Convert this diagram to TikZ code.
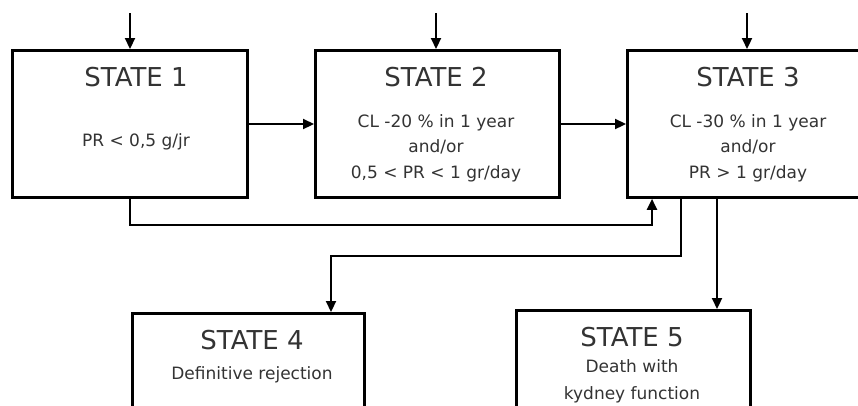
\documentclass[tikz,border=0pt]{standalone}
\usepackage{fontspec}
\setmainfont{DejaVu Sans}
\usetikzlibrary{arrows.meta}
\begin{document}
\begin{tikzpicture}[x=1pt,y=-1pt,
  box/.style={draw=black,line width=2.8pt,fill=white,inner sep=0pt,anchor=north west},
  conn/.style={draw=black,line width=2.2pt},
  arr/.style={conn,-{Triangle[length=11pt,width=10pt]}},
  title/.style={text=black!80,font=\fontsize{26}{28}\selectfont},
  body/.style={text=black!80,font=\fontsize{17}{25.5}\selectfont,align=center}]
\useasboundingbox (0,0) rectangle (858,405);
\clip (0,0) rectangle (858,405);
% boxes
\node[box,minimum width=235pt,minimum height=147pt] (b1) at (11,49) {};
\node[box,minimum width=244pt,minimum height=147pt] (b2) at (314,49) {};
\node[box,minimum width=250pt,minimum height=147pt] (b3) at (626,49) {};
\node[box,minimum width=232pt,minimum height=110pt] (b4) at (131,312) {};
\node[box,minimum width=234pt,minimum height=110pt] (b5) at (515,309) {};
% texts
\node[title] (t1) at (136,77) {STATE 1};
\node[body] (p1) at (136,142) {PR < 0,5 g/jr};
\node[title] (t2) at (436,77) {STATE 2};
\node[body] (p2) at (436,148) {CL -20 \% in 1 year\\and/or\\0,5 < PR < 1 gr/day};
\node[title] (t3) at (748,77) {STATE 3};
\node[body] (p3) at (748,148) {CL -30 \% in 1 year\\and/or\\PR > 1 gr/day};
\node[title] (t4) at (252,340) {STATE 4};
\node[body] (p4) at (252,375) {Definitive rejection};
\node[title] (t5) at (632,337) {STATE 5};
\node[body,font=\fontsize{17}{27}\selectfont] (p5) at (632,381) {Death with\\kydney function};
% incoming arrows
\coordinate (in1) at (130,13);
\coordinate (in2) at (436,13);
\coordinate (in3) at (747,13);
\draw[arr] (in1) -- (in1 |- b1.north);
\draw[arr] (in2) -- (in2 |- b2.north);
\draw[arr] (in3) -- (in3 |- b3.north);
% horizontal arrows
\draw[arr] (b1.east |- 0,124) -- (b2.west |- 0,124);
\draw[arr] (b2.east |- 0,124) -- (b3.west |- 0,124);
% state1 -> state3
\coordinate (j1) at (652,225);
\draw[arr] (b1.south -| 130,0) |- (j1) -- (j1 |- b3.south);
% state3 -> state4
\coordinate (j2) at (681,256);
\coordinate (j3) at (331,256);
\draw[arr] (j2 |- b3.south) -- (j2) -- (j3) -- (j3 |- b4.north);
% state3 -> state5
\coordinate (j4) at (717,230);
\draw[arr] (j4 |- b3.south) -- (j4 |- b5.north);
\end{tikzpicture}
\end{document}
